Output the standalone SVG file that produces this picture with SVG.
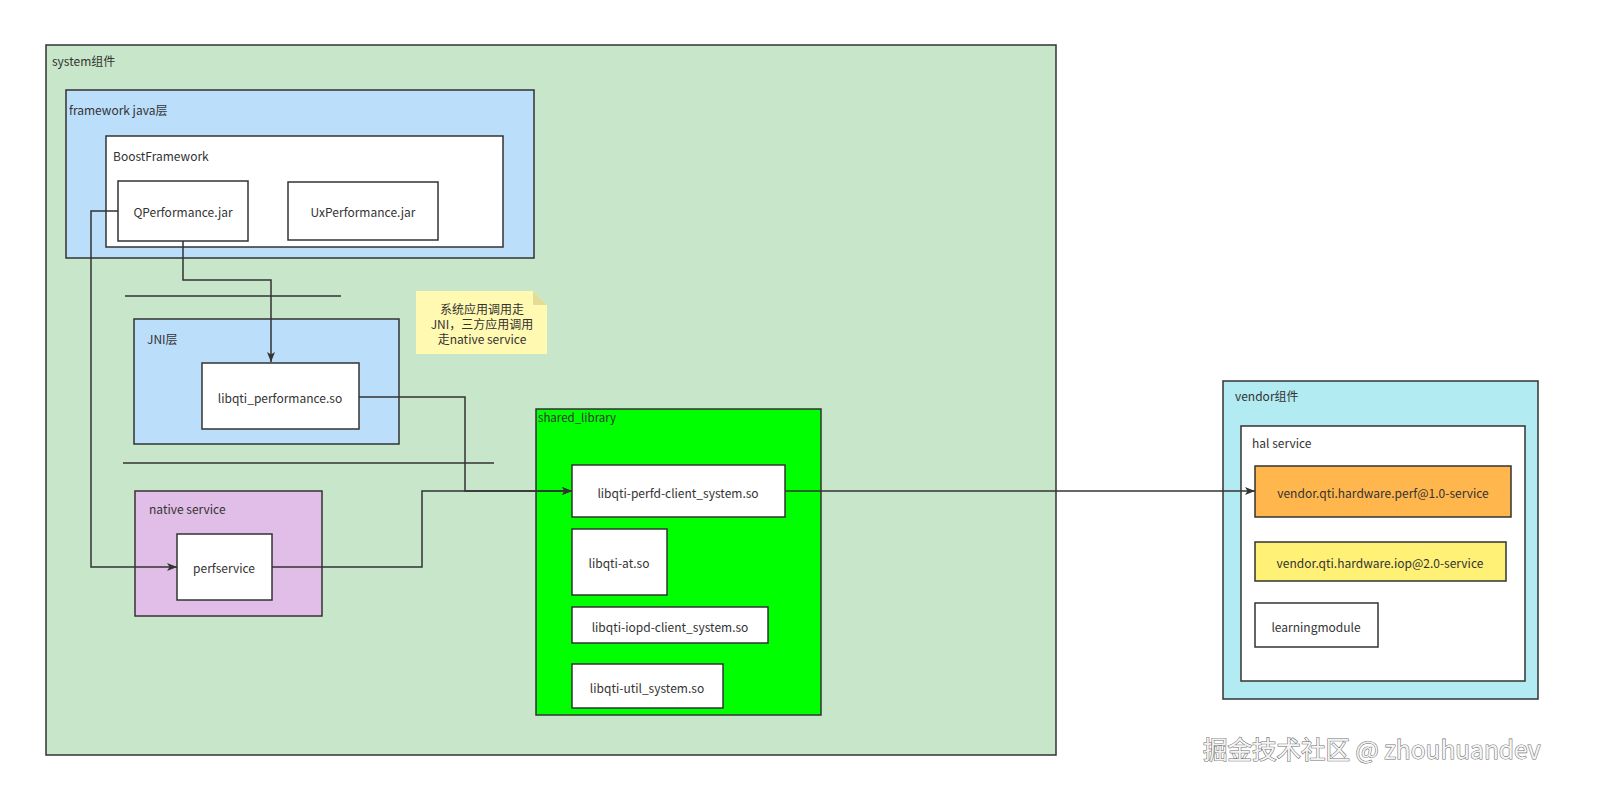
<svg xmlns="http://www.w3.org/2000/svg" width="1600" height="802" viewBox="0 0 1600 802">
<defs>
<style>
text{font-family:"Noto Sans CJK SC","Noto Sans",sans-serif;font-size:12px;fill:#333}
.box{stroke:#333;stroke-width:1.5}
.w{fill:#fff}
.c{text-anchor:middle;dominant-baseline:central}
.conn{fill:none;stroke:#333;stroke-width:1.5}
.wm{font-size:24.5px}
</style>
<marker id="arr" viewBox="0 0 10 10" refX="10" refY="5" markerWidth="10" markerHeight="10" markerUnits="userSpaceOnUse" orient="auto">
<path d="M0,1 L10,5 L0,9 L2.5,5 Z" fill="#333"/>
</marker>
</defs>
<rect width="1600" height="802" fill="#fff"/>
<g id="system">
<rect class="box" x="46" y="45" width="1010" height="710" fill="#c8e6c9"/>
<text x="52" y="66">system组件</text>
</g>
<g id="framework">
<rect class="box" x="66" y="90" width="468" height="168" fill="#bbdefb"/>
<text x="69" y="115">framework java层</text>
</g>
<g id="boost">
<rect class="box w" x="106" y="136" width="397" height="111"/>
<text x="113" y="161">BoostFramework</text>
</g>
<g id="qperf">
<rect class="box w" x="118" y="181" width="130" height="60"/>
<text class="c" x="183" y="211">QPerformance.jar</text>
</g>
<g id="uxperf">
<rect class="box w" x="288" y="182" width="150" height="58"/>
<text class="c" x="363" y="211">UxPerformance.jar</text>
</g>
<g id="sep1"><line x1="125" y1="296" x2="341" y2="296" stroke="#333" stroke-width="1.5"/></g>
<g id="jni">
<rect class="box" x="134" y="319" width="265" height="125" fill="#bbdefb"/>
<text x="147" y="344">JNI层</text>
</g>
<g id="libperf">
<rect class="box w" x="202" y="363" width="157" height="66"/>
<text class="c" x="280" y="397">libqti_performance.so</text>
</g>
<g id="sep2"><line x1="123" y1="463" x2="494" y2="463" stroke="#333" stroke-width="1.5"/></g>
<g id="native">
<rect class="box" x="135" y="491" width="187" height="125" fill="#e1bee7"/>
<text x="149" y="514">native service</text>
</g>
<g id="perfservice">
<rect class="box w" x="177" y="534" width="95" height="66"/>
<text class="c" x="224" y="567">perfservice</text>
</g>
<g id="note">
<path d="M416,291 H533 L547,305 V354 H416 Z" fill="#fff9b1"/>
<path d="M533,291 L547,305 H533 Z" fill="#e3dc96"/>
<text class="c" x="482" y="308">系统应用调用走</text>
<text class="c" x="482" y="323">JNI，三方应用调用</text>
<text class="c" x="482" y="338">走native service</text>
</g>
<g id="shared">
<rect class="box" x="536" y="409" width="285" height="306" fill="#00ff00"/>
<text x="538" y="422" style="font-size:11.5px">shared_library</text>
</g>
<g id="perfd">
<rect class="box w" x="572" y="465" width="213" height="52"/>
<text class="c" x="678" y="492">libqti-perfd-client_system.so</text>
</g>
<g id="at">
<rect class="box w" x="572" y="529" width="95" height="66"/>
<text class="c" x="619" y="562">libqti-at.so</text>
</g>
<g id="iopd">
<rect class="box w" x="572" y="607" width="196" height="36"/>
<text class="c" x="670" y="626">libqti-iopd-client_system.so</text>
</g>
<g id="util">
<rect class="box w" x="572" y="664" width="151" height="44"/>
<text class="c" x="647" y="687">libqti-util_system.so</text>
</g>
<g id="vendor">
<rect class="box" x="1223" y="381" width="315" height="318" fill="#b2ebf2"/>
<text x="1235" y="401">vendor组件</text>
</g>
<g id="hal">
<rect class="box w" x="1241" y="426" width="284" height="255"/>
<text x="1252" y="448">hal service</text>
</g>
<g id="perfhal">
<rect class="box" x="1255" y="466" width="256" height="51" fill="#ffb74d"/>
<text class="c" x="1383" y="492">vendor.qti.hardware.perf@1.0-service</text>
</g>
<g id="iophal">
<rect class="box" x="1255" y="542" width="251" height="39" fill="#fff176"/>
<text class="c" x="1380" y="562">vendor.qti.hardware.iop@2.0-service</text>
</g>
<g id="learning">
<rect class="box w" x="1255" y="603" width="123" height="44"/>
<text class="c" x="1316" y="626">learningmodule</text>
</g>
<g id="connectors">
<path class="conn" d="M183,241 V280 H271 V362" marker-end="url(#arr)"/>
<path class="conn" d="M118,211 H91 V567 H177" marker-end="url(#arr)"/>
<path class="conn" d="M359,397 H465 V491 H572" marker-end="url(#arr)"/>
<path class="conn" d="M272,567 H422 V491 H572" marker-end="url(#arr)"/>
<path class="conn" d="M785,491 H1255" marker-end="url(#arr)"/>
</g>
<g id="watermark">
<text class="wm" x="1203" y="759" style="fill:#f4f4f4;stroke:#6f6f6f;stroke-width:1.1;paint-order:stroke">掘金技术社区 @ zhouhuandev</text>
</g>
</svg>
